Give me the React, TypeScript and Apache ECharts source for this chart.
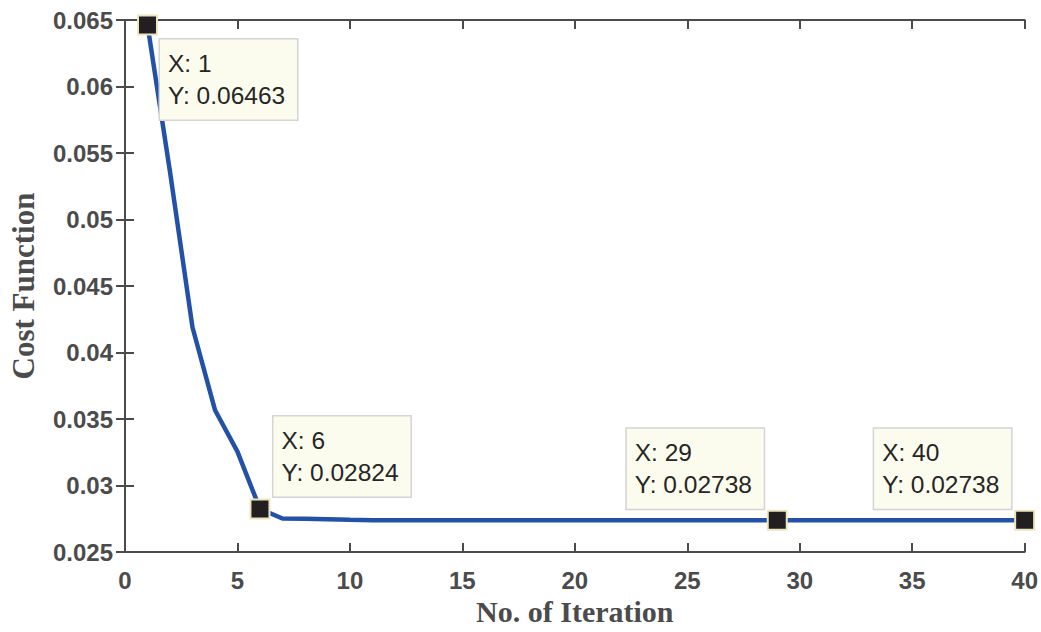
import React, { useEffect, useRef } from "react";
import * as echarts from "echarts";

const iterations = [
  1, 2, 3, 4, 5, 6, 7, 8, 9, 10, 11, 12, 13, 14, 15, 16, 17, 18, 19, 20,
  21, 22, 23, 24, 25, 26, 27, 28, 29, 30, 31, 32, 33, 34, 35, 36, 37, 38, 39, 40,
];
const costs = [
  0.06463, 0.0536, 0.0419, 0.03568, 0.03255, 0.02824, 0.02752, 0.0275, 0.02746, 0.02742,
  0.02739, 0.02738, 0.02738, 0.02738, 0.02738, 0.02738, 0.02738, 0.02738, 0.02738, 0.02738,
  0.02738, 0.02738, 0.02738, 0.02738, 0.02738, 0.02738, 0.02738, 0.02738, 0.02738, 0.02738,
  0.02738, 0.02738, 0.02738, 0.02738, 0.02738, 0.02738, 0.02738, 0.02738, 0.02738, 0.02738,
];
const tipIterations = [1, 6, 29, 40];
const xTicks = { min: 0, max: 40, interval: 5 };
const yTicks = { min: 0.025, max: 0.065, interval: 0.005 };
const xTitle = "No. of Iteration";
const yTitle = "Cost Function";

const AXIS_COLOR = "#4b4b4b";
const TIP_W = 121;
const TIP_PAD = 8;
const TIP_BOX = TIP_W + 2 * TIP_PAD;

export default function App() {
  const ref = useRef<HTMLDivElement>(null);
  useEffect(() => {
    if (!ref.current) return;
    const chart = echarts.init(ref.current, null, { renderer: "svg" });

    const tipPlacement: Record<number, any> = {
      1: { position: [23, 25], verticalAlign: "top" },
      6: { position: [24, -2], verticalAlign: "bottom" },
      29: { position: [-3 - TIP_BOX, -1], verticalAlign: "bottom" },
      40: { position: [-3 - TIP_BOX, -1], verticalAlign: "bottom" },
    };

    const tipData = tipIterations.map((it) => {
      const v = costs[iterations.indexOf(it)];
      return {
        value: [it, v],
        label: {
          show: true,
          formatter: `X: ${it}\nY: ${v.toFixed(5)}`,
          align: "left",
          ...tipPlacement[it],
        },
      };
    });

    const commonAxisLine = { show: true, lineStyle: { color: AXIS_COLOR, width: 2 } };
    const commonTick = { show: true, inside: true, length: 9, lineStyle: { color: AXIS_COLOR, width: 2 } };

    chart.setOption({
      animation: false,
      grid: { left: 122, right: 16, top: 20, bottom: 80 },
      xAxis: [
        {
          type: "value",
          ...xTicks,
          position: "bottom",
          name: xTitle,
          nameLocation: "middle",
          nameGap: 44,
          nameTextStyle: {
            fontFamily: "Liberation Serif",
            fontWeight: "bold",
            fontSize: 30,
            color: AXIS_COLOR,
          },
          axisLine: commonAxisLine,
          axisTick: commonTick,
          splitLine: { show: false },
          axisLabel: {
            margin: 16,
            fontFamily: "Liberation Sans",
            fontWeight: "bold",
            fontSize: 24,
            color: AXIS_COLOR,
          },
        },
        {
          type: "value",
          ...xTicks,
          position: "top",
          axisLine: commonAxisLine,
          axisTick: commonTick,
          splitLine: { show: false },
          axisLabel: { show: false },
        },
      ],
      yAxis: [
        {
          type: "value",
          ...yTicks,
          position: "left",
          name: yTitle,
          nameLocation: "middle",
          nameGap: 86,
          nameTextStyle: {
            fontFamily: "Liberation Serif",
            fontWeight: "bold",
            fontSize: 31,
            color: AXIS_COLOR,
          },
          axisLine: commonAxisLine,
          axisTick: commonTick,
          splitLine: { show: false },
          axisLabel: {
            margin: 12,
            fontFamily: "Liberation Sans",
            fontWeight: "bold",
            fontSize: 24,
            color: AXIS_COLOR,
            formatter: (v: number) => String(+v.toFixed(3)),
          },
        },
        {
          type: "value",
          ...yTicks,
          position: "right",
          axisLine: commonAxisLine,
          axisTick: commonTick,
          splitLine: { show: false },
          axisLabel: { show: false },
        },
      ],
      series: [
        {
          type: "line",
          data: iterations.map((it, i) => [it, costs[i]]),
          symbol: "none",
          lineStyle: { color: "#2451a8", width: 4.5 },
          clip: false,
          z: 2,
        },
        {
          type: "scatter",
          data: tipData,
          symbol: "rect",
          symbolSize: 19,
          clip: false,
          itemStyle: { color: "#231f20", borderColor: "#ece6c0", borderWidth: 2, opacity: 1 },
          label: {
            show: true,
            fontFamily: "Liberation Sans",
            fontSize: 24.5,
            lineHeight: 32,
            color: "#262626",
            backgroundColor: "#fcfcee",
            borderColor: "#d4d4d4",
            borderWidth: 1.5,
            padding: [8, TIP_PAD, 8, TIP_PAD],
            width: TIP_W,
          },
          emphasis: { disabled: true },
          z: 5,
        },
      ],
    });
    return () => chart.dispose();
  }, []);
  return <div ref={ref} style={{ width: 1041, height: 632, position: "absolute", left: 0, top: 0 }} />;
}
